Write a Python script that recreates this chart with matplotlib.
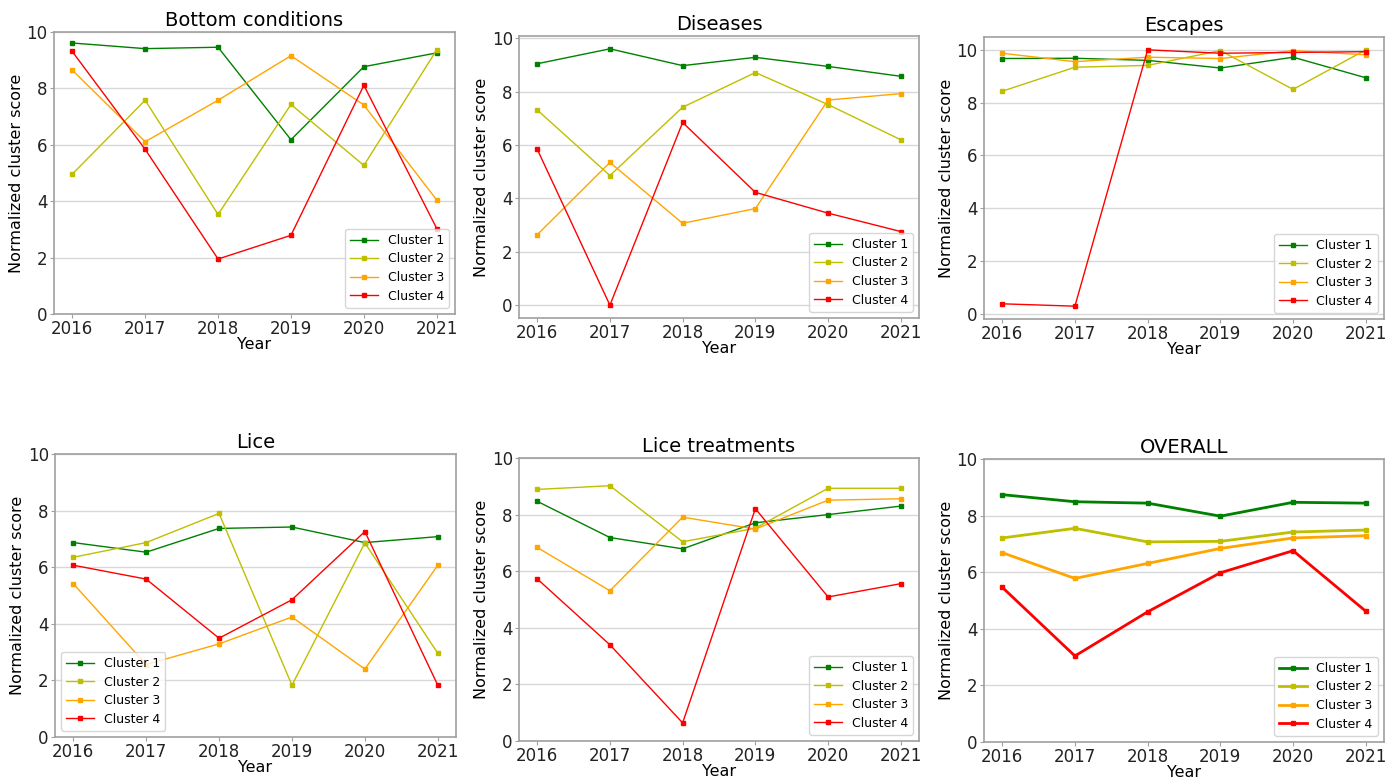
import matplotlib
matplotlib.use("Agg")
import matplotlib.pyplot as plt

years = [2016, 2017, 2018, 2019, 2020, 2021]
cluster_names = ["Cluster 1", "Cluster 2", "Cluster 3", "Cluster 4"]
cluster_colors = ["green", "y", "orange", "red"]

bottom_c1 = [9.61, 9.41, 9.46, 6.18, 8.77, 9.26]
bottom_c2 = [4.96, 7.58, 3.53, 7.43, 5.27, 9.37]
bottom_c3 = [8.65, 6.11, 7.58, 9.16, 7.41, 4.04]
bottom_c4 = [9.31, 5.84, 1.95, 2.79, 8.11, 3.03]

diseases_c1 = [9.05, 9.61, 8.98, 9.29, 8.95, 8.58]
diseases_c2 = [7.32, 4.86, 7.42, 8.72, 7.52, 6.20]
diseases_c3 = [2.64, 5.35, 3.07, 3.62, 7.69, 7.93]
diseases_c4 = [5.85, 0.00, 6.85, 4.23, 3.45, 2.76]

escapes_c1 = [9.67, 9.68, 9.60, 9.31, 9.72, 8.94]
escapes_c2 = [8.43, 9.34, 9.41, 9.97, 8.50, 10.0]
escapes_c3 = [9.87, 9.55, 9.72, 9.67, 9.97, 9.81]
escapes_c4 = [0.37, 0.28, 10.0, 9.87, 9.90, 9.93]

lice_c1 = [6.87, 6.53, 7.37, 7.42, 6.87, 7.08]
lice_c2 = [6.35, 6.87, 7.90, 1.83, 6.86, 2.96]
lice_c3 = [5.42, 2.56, 3.29, 4.24, 2.40, 6.07]
lice_c4 = [6.07, 5.58, 3.49, 4.85, 7.26, 1.83]

licetr_c1 = [8.47, 7.19, 6.79, 7.71, 8.00, 8.30]
licetr_c2 = [8.89, 9.02, 7.04, 7.52, 8.93, 8.93]
licetr_c3 = [6.84, 5.31, 7.91, 7.49, 8.51, 8.56]
licetr_c4 = [5.73, 3.40, 0.64, 8.21, 5.09, 5.56]

overall_c1 = [8.74, 8.49, 8.44, 7.98, 8.47, 8.44]
overall_c2 = [7.21, 7.55, 7.07, 7.09, 7.42, 7.49]
overall_c3 = [6.69, 5.78, 6.31, 6.84, 7.21, 7.29]
overall_c4 = [5.47, 3.04, 4.60, 5.98, 6.76, 4.62]

panels = [
    ("Bottom conditions", [bottom_c1, bottom_c2, bottom_c3, bottom_c4], True, "lower right", 1.0),
    ("Diseases", [diseases_c1, diseases_c2, diseases_c3, diseases_c4], False, "lower right", 1.0),
    ("Escapes", [escapes_c1, escapes_c2, escapes_c3, escapes_c4], False, "lower right", 1.0),
    ("Lice", [lice_c1, lice_c2, lice_c3, lice_c4], True, "lower left", 1.0),
    ("Lice treatments", [licetr_c1, licetr_c2, licetr_c3, licetr_c4], True, "lower right", 1.0),
    ("OVERALL", [overall_c1, overall_c2, overall_c3, overall_c4], True, "lower right", 2.0),
]

W, H = 1397, 778
# axes boxes in pixels: left, top, right, bottom
boxes = [
    (54, 32, 455, 314),
    (519, 36, 919, 318),
    (984, 37, 1384, 319),
    (55, 454, 456, 737),
    (519, 458, 919, 741),
    (984, 459, 1384, 742),
]

fig = plt.figure(figsize=(W / 100, H / 100), dpi=100)
edge = "#a0a0a0"
for (title, series, fixed, loc, lw), (l, t, r, b) in zip(panels, boxes):
    ax = fig.add_axes([l / W, 1 - b / H, (r - l) / W, (b - t) / H])
    for vals, name, col in zip(series, cluster_names, cluster_colors):
        ax.plot(years, vals, color=col, marker="s", markersize=3.5,
                linewidth=lw, label=name)
    if fixed:
        ax.set_ylim(0, 10)
    ax.set_xticks(years)
    ax.set_yticks([0, 2, 4, 6, 8, 10])
    ax.grid(axis="y", color="#d8d8d8", linewidth=1.0)
    ax.set_axisbelow(True)
    for s in ax.spines.values():
        s.set_color(edge)
        s.set_linewidth(1.2)
    ax.tick_params(axis="both", labelsize=12, colors=edge, labelcolor="#222222",
                   length=3, pad=1.5)
    ax.set_title(title, fontsize=14, pad=4)
    ax.set_xlabel("Year", fontsize=11.5, labelpad=-1)
    ax.set_ylabel("Normalized cluster score", fontsize=11.5, labelpad=2)
    ax.legend(loc=loc, fontsize=9, handlelength=2.2, borderaxespad=0.5,
              labelspacing=0.45, framealpha=0.8)

fig.savefig("out.png", dpi=100)
